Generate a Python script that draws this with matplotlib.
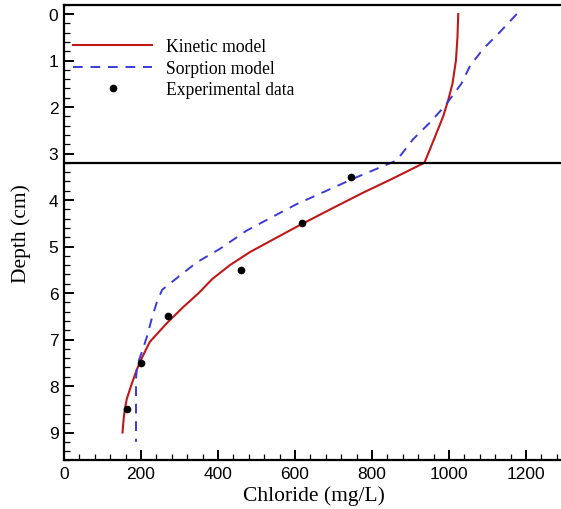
import matplotlib
matplotlib.use("Agg")
import matplotlib.pyplot as plt
from matplotlib.ticker import MultipleLocator

# Kinetic model
kinetic_depth = [0, 0.5, 1.0, 1.5, 1.85, 2.2, 2.55, 2.9, 3.2, 3.55, 3.85, 4.2, 4.52, 4.85,
                 5.12, 5.4, 5.7, 6.0, 6.3, 6.65, 7.05, 7.4, 7.65, 7.95, 8.28, 8.5, 8.7, 9.0]
kinetic_cl = [1024, 1022, 1018, 1009, 998, 985, 968, 951, 936, 851, 775, 692, 617, 543,
              483, 431, 385, 350, 310, 267, 223, 202, 189, 176, 163, 158, 155, 152]

# Sorption model
sorption_depth = [0, 0.39, 0.75, 1.11, 1.5, 1.97, 2.33, 2.69, 3.15, 3.51, 3.8, 4.09, 4.4,
                  4.66, 5.05, 5.34, 5.7, 5.93, 6.2, 6.55, 6.95, 7.3, 7.55, 7.85, 8.5, 9.2]
sorption_cl = [1176, 1132, 1089, 1055, 1032, 990, 951, 907, 864, 760, 682, 604, 533,
               474, 405, 345, 290, 255, 241, 228, 215, 201, 190, 187, 187, 187]

# Experimental data
exp_depth = [3.5, 4.5, 5.5, 6.5, 7.5, 8.5]
exp_cl = [745, 617, 460, 269, 200, 164]

interface_depth = 3.2

x_ticks = [0, 200, 400, 600, 800, 1000, 1200]
y_ticks = [0, 1, 2, 3, 4, 5, 6, 7, 8, 9]

W, H = 561, 510
fig = plt.figure(figsize=(W / 100, H / 100), dpi=100)
left = 64 / W
right = 564.5 / W
top = (H - 5.7) / H
bottom = (H - 461.4) / H
ax = fig.add_axes([left, bottom, right - left, top - bottom])

serif = "Liberation Serif"
sans = "Liberation Sans"

ax.plot(kinetic_cl, kinetic_depth, color="#c01818", lw=1.5, label="Kinetic model")
ax.plot(sorption_cl, sorption_depth, color="#3a3ad8", lw=1.4, dashes=(5, 4),
        label="Sorption model")
ax.plot(exp_cl, exp_depth, "o", color="black", ms=4.5, ls="none",
        label="Experimental data")
ax.axhline(interface_depth, color="black", lw=1.6)

ax.set_xlim(0, 1300)
ax.set_ylim(9.6, -0.2)
ax.set_xticks(x_ticks)
ax.set_yticks(y_ticks)
ax.xaxis.set_minor_locator(MultipleLocator(40))
ax.yaxis.set_minor_locator(MultipleLocator(0.2))
ax.tick_params(which="major", direction="in", length=7.5, width=1.4,
               labelsize=12.5, pad=4)
ax.tick_params(which="minor", direction="in", length=4.5, width=0.9)
for lab in ax.get_xticklabels() + ax.get_yticklabels():
    lab.set_fontfamily(sans)

for s in ax.spines.values():
    s.set_linewidth(1.6)

ax.set_xlabel("Chloride (mg/L)", family=serif, fontsize=15.5, labelpad=3)
ax.set_ylabel("Depth (cm)", family=serif, fontsize=15.5, labelpad=13)

leg = ax.legend(loc="upper left", bbox_to_anchor=(-0.007, 0.953), frameon=False,
                prop={"family": serif, "size": 12.7}, handlelength=4.5,
                handletextpad=0.8, labelspacing=0.25, borderaxespad=0.3,
                numpoints=1)

fig.savefig("out.png", dpi=100)
